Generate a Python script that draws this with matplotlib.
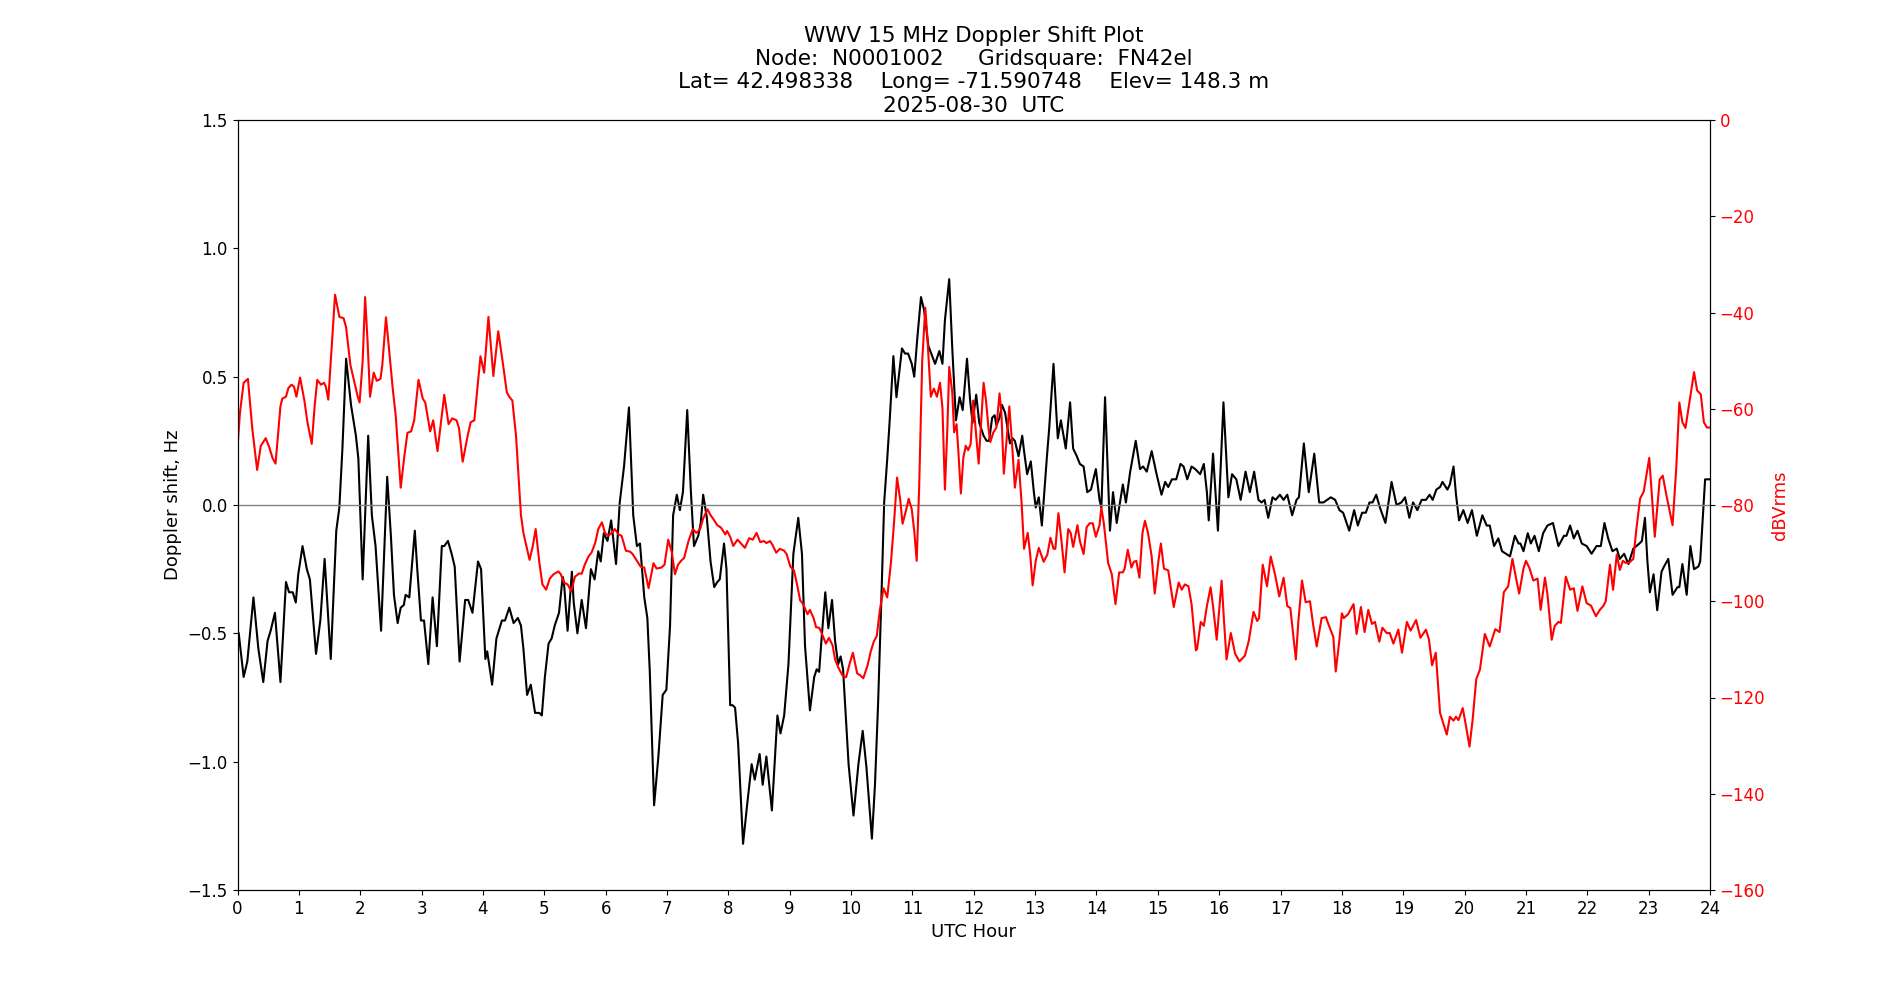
import matplotlib
matplotlib.use("Agg")
import matplotlib.pyplot as plt

# Doppler shift (Hz) vs UTC hour
doppler_hours = [
    0.02, 0.10, 0.16, 0.26, 0.34, 0.42, 0.49, 0.54, 0.61, 0.70, 0.79, 0.84, 0.90, 0.95, 0.99,
    1.06, 1.13, 1.18, 1.28, 1.35, 1.42, 1.52, 1.61, 1.66, 1.71, 1.77, 1.85, 1.93, 1.97, 2.04,
    2.13, 2.19, 2.25, 2.34, 2.44, 2.50, 2.55, 2.61, 2.66, 2.71, 2.74, 2.80, 2.89, 2.93, 2.99,
    3.04, 3.11, 3.18, 3.25, 3.33, 3.37, 3.43, 3.49, 3.54, 3.62, 3.71, 3.76, 3.83, 3.92, 3.97,
    4.04, 4.07, 4.15, 4.22, 4.31, 4.36, 4.43, 4.50, 4.57, 4.62, 4.66, 4.72, 4.78, 4.85, 4.92,
    4.96, 5.01, 5.07, 5.12, 5.17, 5.24, 5.30, 5.32, 5.38, 5.45, 5.48, 5.54, 5.61, 5.68, 5.76,
    5.82, 5.88, 5.92, 5.97, 6.03, 6.09, 6.17, 6.23, 6.30, 6.38, 6.45, 6.51, 6.56, 6.63, 6.68,
    6.72, 6.79, 6.86, 6.93, 6.99, 7.05, 7.10, 7.16, 7.21, 7.26, 7.33, 7.39, 7.44, 7.51, 7.55,
    7.59, 7.65, 7.71, 7.77, 7.82, 7.86, 7.93, 7.97, 8.03, 8.07, 8.11, 8.16, 8.24, 8.31, 8.38,
    8.43, 8.51, 8.56, 8.62, 8.71, 8.80, 8.85, 8.91, 8.98, 9.06, 9.14, 9.20, 9.25, 9.33, 9.40,
    9.44, 9.48, 9.52, 9.58, 9.63, 9.69, 9.74, 9.79, 9.83, 9.87, 9.96, 10.04, 10.12, 10.19, 10.25,
    10.34, 10.39, 10.44, 10.50, 10.54, 10.59, 10.63, 10.69, 10.74, 10.83, 10.88, 10.93, 10.99, 11.03, 11.08,
    11.14, 11.19, 11.26, 11.37, 11.44, 11.49, 11.53, 11.60, 11.65, 11.71, 11.77, 11.82, 11.89, 11.94, 11.98,
    12.04, 12.09, 12.16, 12.21, 12.25, 12.30, 12.34, 12.37, 12.42, 12.46, 12.51, 12.55, 12.59, 12.63, 12.67,
    12.73, 12.79, 12.82, 12.87, 12.93, 12.98, 13.01, 13.06, 13.11, 13.19, 13.23, 13.30, 13.37, 13.42, 13.50,
    13.57, 13.62, 13.68, 13.73, 13.79, 13.85, 13.91, 13.99, 14.05, 14.08, 14.14, 14.22, 14.27, 14.33, 14.43,
    14.48, 14.55, 14.64, 14.71, 14.76, 14.82, 14.90, 14.98, 15.06, 15.12, 15.17, 15.23, 15.30, 15.37, 15.42,
    15.48, 15.55, 15.61, 15.69, 15.75, 15.80, 15.83, 15.90, 15.98, 16.07, 16.15, 16.21, 16.28, 16.35, 16.43,
    16.50, 16.57, 16.64, 16.69, 16.74, 16.80, 16.87, 16.92, 16.99, 17.05, 17.11, 17.19, 17.26, 17.30, 17.38,
    17.46, 17.55, 17.63, 17.70, 17.76, 17.82, 17.89, 17.96, 18.02, 18.12, 18.20, 18.26, 18.33, 18.39, 18.45,
    18.50, 18.56, 18.62, 18.71, 18.81, 18.89, 18.97, 19.03, 19.10, 19.16, 19.23, 19.30, 19.37, 19.43, 19.48,
    19.54, 19.60, 19.64, 19.72, 19.76, 19.82, 19.86, 19.91, 19.98, 20.05, 20.12, 20.20, 20.29, 20.36, 20.41,
    20.48, 20.55, 20.61, 20.74, 20.82, 20.88, 20.91, 20.96, 21.03, 21.08, 21.14, 21.21, 21.28, 21.35, 21.44,
    21.53, 21.62, 21.66, 21.72, 21.78, 21.84, 21.91, 21.99, 22.07, 22.15, 22.22, 22.28, 22.34, 22.41, 22.48,
    22.53, 22.60, 22.67, 22.75, 22.85, 22.89, 22.94, 22.98, 23.02, 23.08, 23.14, 23.21, 23.25, 23.32, 23.39,
    23.47, 23.50, 23.55, 23.62, 23.68, 23.74, 23.81, 23.84, 23.92, 23.99,
]
doppler_hz = [
    -0.50, -0.67, -0.61, -0.36, -0.56, -0.69, -0.53, -0.49, -0.42, -0.69, -0.30, -0.34, -0.34, -0.38, -0.27,
    -0.16, -0.25, -0.29, -0.58, -0.45, -0.21, -0.60, -0.10, -0.01, 0.22, 0.57, 0.39, 0.27, 0.18, -0.29,
    0.27, -0.04, -0.16, -0.49, 0.11, -0.12, -0.35, -0.46, -0.40, -0.39, -0.35, -0.36, -0.10, -0.25, -0.45,
    -0.45, -0.62, -0.36, -0.55, -0.16, -0.16, -0.14, -0.19, -0.24, -0.61, -0.37, -0.37, -0.42, -0.22, -0.25,
    -0.60, -0.57, -0.70, -0.52, -0.45, -0.45, -0.40, -0.46, -0.44, -0.47, -0.56, -0.74, -0.70, -0.81, -0.81,
    -0.82, -0.67, -0.54, -0.52, -0.47, -0.42, -0.28, -0.30, -0.49, -0.26, -0.38, -0.50, -0.37, -0.48, -0.25,
    -0.29, -0.18, -0.22, -0.11, -0.14, -0.06, -0.23, 0.01, 0.15, 0.38, -0.04, -0.16, -0.15, -0.36, -0.44,
    -0.65, -1.17, -0.98, -0.74, -0.72, -0.47, -0.04, 0.04, -0.02, 0.05, 0.37, 0.05, -0.16, -0.12, -0.07,
    0.04, -0.05, -0.22, -0.32, -0.30, -0.29, -0.15, -0.25, -0.78, -0.78, -0.79, -0.93, -1.32, -1.16, -1.01,
    -1.07, -0.97, -1.09, -0.98, -1.19, -0.82, -0.89, -0.82, -0.62, -0.19, -0.05, -0.19, -0.55, -0.80, -0.67,
    -0.64, -0.65, -0.52, -0.34, -0.48, -0.37, -0.53, -0.62, -0.59, -0.64, -1.01, -1.21, -1.01, -0.88, -1.02,
    -1.30, -1.09, -0.78, -0.32, 0.01, 0.18, 0.33, 0.58, 0.42, 0.61, 0.59, 0.59, 0.55, 0.50, 0.65,
    0.81, 0.76, 0.62, 0.55, 0.60, 0.55, 0.72, 0.88, 0.61, 0.33, 0.42, 0.37, 0.57, 0.41, 0.32,
    0.43, 0.32, 0.27, 0.25, 0.25, 0.34, 0.35, 0.31, 0.34, 0.39, 0.36, 0.30, 0.24, 0.26, 0.25,
    0.19, 0.27, 0.21, 0.12, 0.17, 0.05, -0.01, 0.03, -0.08, 0.18, 0.30, 0.55, 0.26, 0.33, 0.22,
    0.40, 0.22, 0.19, 0.16, 0.15, 0.05, 0.06, 0.14, 0.02, -0.01, 0.42, -0.10, 0.05, -0.07, 0.08,
    0.01, 0.13, 0.25, 0.14, 0.15, 0.13, 0.21, 0.12, 0.04, 0.09, 0.07, 0.10, 0.10, 0.16, 0.15,
    0.10, 0.15, 0.14, 0.12, 0.16, 0.05, -0.06, 0.20, -0.10, 0.40, 0.03, 0.12, 0.10, 0.02, 0.13,
    0.05, 0.13, 0.02, 0.01, 0.02, -0.05, 0.03, 0.02, 0.04, 0.02, 0.04, -0.04, 0.02, 0.03, 0.24,
    0.05, 0.20, 0.01, 0.01, 0.02, 0.03, 0.02, -0.02, -0.03, -0.10, -0.02, -0.08, -0.03, -0.03, 0.01,
    0.01, 0.04, -0.01, -0.07, 0.09, 0.00, 0.01, 0.03, -0.05, 0.01, -0.02, 0.02, 0.02, 0.04, 0.02,
    0.06, 0.07, 0.09, 0.06, 0.08, 0.15, 0.04, -0.06, -0.02, -0.07, -0.02, -0.12, -0.04, -0.08, -0.08,
    -0.16, -0.13, -0.18, -0.20, -0.12, -0.15, -0.15, -0.18, -0.11, -0.15, -0.12, -0.18, -0.11, -0.08, -0.07,
    -0.16, -0.12, -0.12, -0.08, -0.13, -0.10, -0.15, -0.16, -0.19, -0.16, -0.16, -0.07, -0.13, -0.18, -0.17,
    -0.21, -0.19, -0.23, -0.17, -0.15, -0.14, -0.05, -0.22, -0.34, -0.27, -0.41, -0.26, -0.24, -0.21, -0.35,
    -0.32, -0.32, -0.23, -0.35, -0.16, -0.25, -0.24, -0.22, 0.10, 0.10,
]

# Signal level (dBVrms) vs UTC hour
level_hours = [
    0.00, 0.04, 0.10, 0.17, 0.24, 0.32, 0.38, 0.46, 0.52, 0.57, 0.62, 0.70, 0.73, 0.79, 0.83,
    0.88, 0.92, 0.96, 1.02, 1.09, 1.14, 1.21, 1.26, 1.30, 1.36, 1.41, 1.44, 1.48, 1.52, 1.59,
    1.66, 1.73, 1.77, 1.84, 1.90, 1.96, 1.99, 2.04, 2.08, 2.12, 2.16, 2.22, 2.27, 2.33, 2.36,
    2.42, 2.47, 2.53, 2.58, 2.66, 2.72, 2.77, 2.83, 2.88, 2.95, 3.02, 3.06, 3.14, 3.19, 3.26,
    3.37, 3.44, 3.50, 3.57, 3.61, 3.67, 3.75, 3.80, 3.86, 3.96, 4.02, 4.09, 4.17, 4.25, 4.32,
    4.39, 4.43, 4.48, 4.54, 4.58, 4.62, 4.66, 4.76, 4.81, 4.86, 4.92, 4.97, 5.03, 5.09, 5.15,
    5.23, 5.27, 5.32, 5.38, 5.44, 5.50, 5.57, 5.61, 5.66, 5.72, 5.77, 5.83, 5.88, 5.94, 5.99,
    6.04, 6.10, 6.15, 6.21, 6.26, 6.33, 6.40, 6.44, 6.51, 6.57, 6.63, 6.70, 6.75, 6.78, 6.83,
    6.91, 6.96, 7.02, 7.08, 7.13, 7.18, 7.23, 7.28, 7.35, 7.42, 7.48, 7.54, 7.59, 7.66, 7.71,
    7.76, 7.82, 7.88, 7.95, 7.98, 8.03, 8.08, 8.15, 8.20, 8.27, 8.34, 8.40, 8.46, 8.52, 8.58,
    8.62, 8.68, 8.72, 8.78, 8.84, 8.91, 8.95, 9.01, 9.07, 9.12, 9.17, 9.22, 9.29, 9.33, 9.39,
    9.43, 9.48, 9.52, 9.59, 9.64, 9.70, 9.74, 9.79, 9.86, 9.92, 9.97, 10.03, 10.06, 10.10, 10.15,
    10.20, 10.27, 10.32, 10.37, 10.42, 10.47, 10.53, 10.59, 10.65, 10.70, 10.75, 10.80, 10.84, 10.90, 10.94,
    10.99, 11.03, 11.07, 11.11, 11.16, 11.21, 11.24, 11.30, 11.35, 11.40, 11.45, 11.49, 11.53, 11.57, 11.60,
    11.65, 11.68, 11.72, 11.75, 11.79, 11.83, 11.87, 11.91, 11.95, 11.99, 12.04, 12.08, 12.11, 12.16, 12.20,
    12.24, 12.27, 12.32, 12.37, 12.42, 12.45, 12.49, 12.54, 12.58, 12.62, 12.67, 12.73, 12.78, 12.82, 12.88,
    12.92, 12.96, 13.01, 13.06, 13.11, 13.14, 13.20, 13.25, 13.30, 13.33, 13.38, 13.43, 13.48, 13.54, 13.58,
    13.62, 13.69, 13.73, 13.79, 13.84, 13.89, 13.94, 13.99, 14.05, 14.08, 14.12, 14.19, 14.25, 14.31, 14.37,
    14.43, 14.46, 14.51, 14.57, 14.61, 14.65, 14.70, 14.75, 14.79, 14.84, 14.90, 14.95, 15.01, 15.05, 15.10,
    15.17, 15.26, 15.34, 15.39, 15.44, 15.50, 15.55, 15.62, 15.64, 15.70, 15.75, 15.80, 15.86, 15.90, 15.96,
    16.04, 16.08, 16.12, 16.19, 16.26, 16.33, 16.42, 16.48, 16.56, 16.62, 16.65, 16.71, 16.78, 16.84, 16.91,
    16.98, 17.05, 17.11, 17.16, 17.25, 17.29, 17.35, 17.41, 17.48, 17.53, 17.59, 17.67, 17.74, 17.79, 17.86,
    17.90, 17.96, 18.00, 18.03, 18.10, 18.19, 18.24, 18.31, 18.37, 18.43, 18.49, 18.54, 18.61, 18.66, 18.73,
    18.78, 18.84, 18.92, 18.98, 19.06, 19.12, 19.21, 19.28, 19.37, 19.42, 19.47, 19.53, 19.60, 19.71, 19.76,
    19.82, 19.86, 19.90, 19.97, 20.02, 20.08, 20.13, 20.19, 20.25, 20.33, 20.41, 20.50, 20.57, 20.64, 20.71,
    20.78, 20.84, 20.89, 20.96, 21.00, 21.06, 21.12, 21.19, 21.24, 21.31, 21.35, 21.42, 21.47, 21.53, 21.57,
    21.65, 21.72, 21.78, 21.84, 21.92, 21.99, 22.06, 22.14, 22.21, 22.26, 22.30, 22.37, 22.42, 22.48, 22.53,
    22.58, 22.62, 22.68, 22.75, 22.80, 22.86, 22.92, 23.01, 23.10, 23.18, 23.23, 23.29, 23.39, 23.45, 23.50,
    23.55, 23.60, 23.65, 23.74, 23.79, 23.85, 23.90, 23.95, 23.99,
]
level_db = [
    -68.1, -60.8, -54.6, -53.8, -64.0, -72.7, -67.7, -66.1, -68.1, -70.2, -71.4, -59.5, -57.9, -57.5, -55.7,
    -55.0, -55.4, -57.5, -53.5, -58.3, -62.8, -67.3, -59.1, -54.0, -55.0, -54.6, -55.4, -58.1, -50.1, -36.3,
    -40.9, -41.2, -43.1, -50.9, -54.2, -57.5, -58.7, -50.1, -36.8, -46.0, -57.5, -52.5, -54.2, -53.8, -50.9,
    -41.0, -47.6, -55.8, -61.6, -76.4, -69.8, -65.0, -64.7, -62.4, -54.0, -57.9, -58.7, -64.7, -62.4, -68.8,
    -57.1, -63.2, -62.0, -62.4, -64.0, -71.0, -65.7, -62.8, -62.4, -49.1, -52.5, -40.9, -53.2, -43.9, -50.1,
    -56.6, -57.5, -58.3, -65.7, -73.9, -82.1, -85.8, -91.4, -88.7, -85.0, -92.0, -96.5, -97.6, -95.3, -94.4,
    -93.8, -94.4, -96.1, -96.5, -97.9, -94.9, -94.2, -94.3, -92.4, -90.7, -89.9, -87.9, -85.0, -83.6, -85.8,
    -86.4, -85.8, -85.0, -86.1, -86.4, -89.5, -89.7, -90.2, -91.6, -92.8, -93.0, -97.3, -94.0, -92.1, -93.2,
    -93.0, -92.4, -87.2, -89.9, -94.4, -92.4, -91.6, -91.0, -87.5, -85.0, -85.8, -85.0, -82.8, -80.9, -82.1,
    -83.0, -84.2, -84.7, -86.1, -85.4, -86.6, -88.5, -87.2, -87.9, -88.9, -86.9, -87.2, -85.8, -87.7, -87.5,
    -87.9, -87.5, -88.3, -89.9, -89.1, -89.5, -90.2, -92.8, -93.6, -96.5, -99.8, -100.6, -102.7, -101.8, -103.5,
    -105.4, -105.5, -106.6, -108.8, -107.6, -109.2, -112.1, -113.7, -115.4, -115.8, -113.3, -110.7, -112.5, -115.0, -115.4,
    -116.0, -113.3, -110.5, -108.4, -107.2, -101.8, -97.3, -99.2, -92.0, -83.8, -74.3, -78.8, -83.9, -80.9, -78.7,
    -80.9, -85.4, -91.6, -76.4, -50.1, -39.0, -44.3, -57.5, -55.8, -57.5, -54.6, -59.9, -76.8, -64.0, -51.3,
    -56.6, -64.9, -63.2, -69.0, -77.6, -70.2, -67.7, -68.6, -67.3, -58.3, -65.7, -71.4, -64.9, -54.6, -58.3,
    -64.0, -66.9, -64.9, -63.9, -56.8, -60.8, -73.5, -65.7, -59.5, -66.5, -76.4, -70.6, -79.6, -89.1, -85.8,
    -90.3, -96.7, -91.6, -88.9, -90.7, -91.8, -90.3, -86.8, -89.1, -89.1, -81.7, -87.5, -94.0, -85.0, -85.8,
    -88.7, -84.2, -87.5, -90.2, -84.6, -83.8, -83.8, -86.6, -84.2, -80.5, -83.8, -92.0, -94.4, -100.6, -94.0,
    -94.0, -93.2, -89.3, -93.0, -91.8, -91.6, -95.1, -85.8, -83.3, -85.8, -90.7, -98.4, -91.6, -88.0, -93.2,
    -93.6, -101.2, -96.1, -97.6, -96.5, -96.9, -100.6, -110.2, -109.9, -104.3, -105.1, -101.0, -97.1, -101.0, -108.0,
    -95.7, -104.3, -112.1, -106.6, -110.9, -112.5, -111.3, -108.4, -102.2, -104.1, -103.5, -92.4, -96.9, -90.7, -94.4,
    -99.0, -95.1, -101.0, -101.4, -112.1, -104.3, -95.7, -100.2, -100.0, -104.7, -109.4, -103.5, -103.3, -105.1, -107.4,
    -114.6, -108.0, -102.5, -103.5, -102.7, -100.6, -106.8, -101.2, -106.4, -101.8, -104.7, -104.3, -108.4, -105.5, -106.6,
    -106.6, -108.8, -105.9, -110.7, -104.3, -106.1, -103.9, -107.6, -105.9, -108.0, -113.3, -110.7, -123.2, -127.7, -124.0,
    -124.8, -124.0, -124.7, -122.2, -125.7, -130.2, -124.8, -116.2, -114.2, -106.8, -109.4, -105.8, -106.4, -98.1, -96.9,
    -91.2, -95.3, -98.4, -93.2, -91.6, -93.2, -95.7, -95.3, -101.8, -95.1, -98.5, -108.0, -105.1, -104.3, -104.5,
    -94.9, -97.6, -97.3, -102.0, -96.9, -100.4, -100.9, -103.1, -101.7, -101.0, -100.0, -92.4, -97.6, -90.3, -93.5,
    -91.6, -92.0, -92.0, -91.2, -85.0, -78.7, -77.2, -70.2, -86.6, -74.7, -73.9, -78.0, -84.2, -72.3, -58.7,
    -62.8, -64.0, -59.9, -52.4, -56.2, -57.0, -62.8, -63.9, -63.9,
]

title = ("WWV 15 MHz Doppler Shift Plot\n"
         "Node:  N0001002     Gridsquare:  FN42el\n"
         "Lat= 42.498338    Long= -71.590748    Elev= 148.3 m\n"
         "2025-08-30  UTC")

fig, ax = plt.subplots(figsize=(19, 10), dpi=100)
ax.plot(doppler_hours, doppler_hz, color="black", linewidth=1.5, solid_joinstyle="round")
ax.axhline(0, color="gray", linewidth=1)
ax.set_xlim(0, 24)
ax.set_ylim(-1.5, 1.5)
ax.set_xticks(range(0, 25))
ax.set_xlabel("UTC Hour", fontsize=13)
ax.set_ylabel("Doppler shift, Hz", fontsize=13)
ax.tick_params(labelsize=12)
ax.set_title(title, fontsize=15.5)

ax2 = ax.twinx()
ax2.plot(level_hours, level_db, color="red", linewidth=1.5, solid_joinstyle="round")
ax2.set_ylim(-160, 0)
ax2.set_ylabel("dBVrms", color="red", fontsize=13)
ax2.tick_params(axis="y", labelcolor="red", labelsize=12)

fig.savefig("out.png", dpi=100)
